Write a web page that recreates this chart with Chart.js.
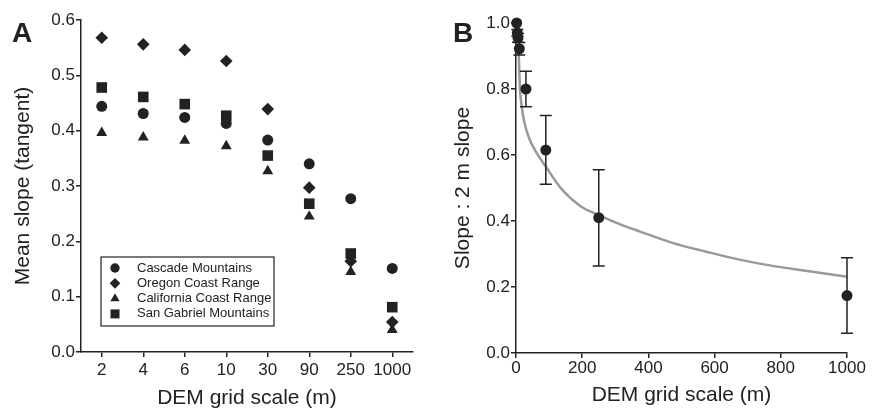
<!DOCTYPE html>
<html>
<head>
<meta charset="utf-8">
<script src="https://cdn.jsdelivr.net/npm/chart.js@4.4.0/dist/chart.umd.min.js"></script>
<style>
    body { margin: 0; background: #fff; }
    #wrapA { position: absolute; left: 0; top: 0; width: 440px; height: 410px; }
    #wrapB { position: absolute; left: 440px; top: 0; width: 438px; height: 410px; }
</style>
</head>
<body>
<div id="wrapA"><canvas id="chartA" width="440" height="410"></canvas></div>
<div id="wrapB"><canvas id="chartB" width="438" height="410"></canvas></div>
<script>
// Panel A - mean slope for each region at each DEM grid scale
const gridScales = ['2', '4', '6', '10', '30', '90', '250', '1000'];
const cascade = [0.444, 0.431, 0.424, 0.413, 0.383, 0.340, 0.277, 0.151];
const oregon = [0.568, 0.556, 0.546, 0.526, 0.439, 0.297, 0.164, 0.054];
const california = [0.396, 0.388, 0.382, 0.372, 0.327, 0.245, 0.145, 0.040];
const sanGabriel = [0.478, 0.461, 0.448, 0.427, 0.355, 0.268, 0.178, 0.081];

// Panel B - slope relative to the 2 m slope, with error bars and the fitted curve
const ratioX = [2, 4, 6, 10, 30, 90, 250, 1000];
const ratioY = [1.0, 0.97, 0.955, 0.922, 0.80, 0.615, 0.41, 0.174];
const ratioLow = [1.0, 0.96, 0.942, 0.903, 0.746, 0.511, 0.264, 0.060];
const ratioHigh = [1.0, 0.98, 0.968, 0.941, 0.854, 0.72, 0.555, 0.289];
const fitX = [6, 8, 12, 17, 25, 40, 60, 90, 135, 195, 250, 315, 375, 475, 575, 675, 775, 875, 1000];
const fitY = [1.0, 0.92, 0.80, 0.75, 0.70, 0.65, 0.61, 0.565, 0.50, 0.445, 0.418, 0.39, 0.368, 0.333, 0.307, 0.283, 0.264, 0.249, 0.231];

const FONT = '"Liberation Sans", Arial, sans-serif';
const INK = '#222';

Chart.defaults.font.family = FONT;
Chart.defaults.color = INK;

function axisGrid() {
    return { drawOnChartArea: false, color: INK, lineWidth: 1.5, tickLength: 5, offset: false };
}

// big bold panel letter in the top-left corner
function panelLetter(letter, x) {
    return {
        id: 'panelLetter' + letter,
        afterDraw(chart) {
            const ctx = chart.ctx;
            ctx.save();
            ctx.font = 'bold 28px ' + FONT;
            ctx.fillStyle = INK;
            ctx.textBaseline = 'alphabetic';
            ctx.fillText(letter, x, 42);
            ctx.restore();
        }
    };
}

// legend in a box inside the plot area of panel A
const legendBox = {
    id: 'legendBox',
    afterDatasetsDraw(chart) {
        const { ctx, chartArea } = chart;
        const left = chartArea.left + 20;
        const top = chartArea.top + 237;
        ctx.save();
        ctx.fillStyle = '#fff';
        ctx.fillRect(left, top, 173, 69);
        ctx.strokeStyle = INK;
        ctx.lineWidth = 1.2;
        ctx.strokeRect(left, top, 173, 69);
        ctx.font = '13px ' + FONT;
        ctx.textBaseline = 'middle';
        chart.data.datasets.forEach((ds, i) => {
            const y = top + 11 + i * 15.3;
            ctx.fillStyle = INK;
            Chart.helpers.drawPoint(ctx, {
                pointStyle: ds.pointStyle,
                radius: ds.pointRadius * 0.85,
                borderWidth: 0,
                rotation: 0
            }, left + 14, y);
            ctx.fillText(ds.label, left + 36, y);
        });
        ctx.restore();
    }
};

// vertical error bars with caps for panel B
const errorBars = {
    id: 'errorBars',
    afterDatasetsDraw(chart) {
        const { ctx, scales } = chart;
        ctx.save();
        ctx.strokeStyle = INK;
        ctx.lineWidth = 1.5;
        ratioX.forEach((x, i) => {
            if (ratioHigh[i] === ratioLow[i]) return;
            const px = scales.x.getPixelForValue(x);
            const yHi = scales.y.getPixelForValue(ratioHigh[i]);
            const yLo = scales.y.getPixelForValue(ratioLow[i]);
            ctx.beginPath();
            ctx.moveTo(px, yHi);
            ctx.lineTo(px, yLo);
            ctx.moveTo(px - 6, yHi);
            ctx.lineTo(px + 6, yHi);
            ctx.moveTo(px - 6, yLo);
            ctx.lineTo(px + 6, yLo);
            ctx.stroke();
        });
        ctx.restore();
    }
};

function markerSet(label, data, style, radius) {
    return {
        label: label,
        data: data,
        showLine: false,
        pointStyle: style,
        pointRadius: radius,
        pointBorderWidth: 0,
        backgroundColor: INK,
        borderColor: INK,
        clip: false
    };
}

new Chart(document.getElementById('chartA'), {
    type: 'line',
    data: {
        labels: gridScales,
        datasets: [
            markerSet('Cascade Mountains', cascade, 'circle', 5.5),
            markerSet('Oregon Coast Range', oregon, 'rectRot', 6.3),
            markerSet('California Coast Range', california, 'triangle', 6.3),
            markerSet('San Gabriel Mountains', sanGabriel, 'rect', 7.5)
        ]
    },
    options: {
        responsive: false,
        animation: false,
        layout: { padding: { left: 0, right: 27, top: 20, bottom: 0 } },
        plugins: { legend: { display: false }, tooltip: { enabled: false } },
        scales: {
            x: {
                type: 'category',
                offset: true,
                grid: axisGrid(),
                border: { color: INK, width: 1.5 },
                ticks: { font: { size: 17 }, padding: 3, maxRotation: 0, autoSkip: false },
                title: { display: true, text: 'DEM grid scale (m)', font: { size: 21, lineHeight: 1 }, padding: { top: 0, bottom: 1 } },
                afterFit(scale) { scale.height = 58; }
            },
            y: {
                min: 0,
                max: 0.6,
                grid: axisGrid(),
                border: { color: INK, width: 1.5 },
                ticks: { stepSize: 0.1, font: { size: 17 }, padding: 1, callback: v => v.toFixed(1) },
                title: { display: true, text: 'Mean slope (tangent)', font: { size: 21, lineHeight: 1 }, padding: { top: 13, bottom: 0 } },
                afterFit(scale) { scale.width = 81; }
            }
        }
    },
    plugins: [legendBox, panelLetter('A', 12)]
});

new Chart(document.getElementById('chartB'), {
    type: 'scatter',
    data: {
        datasets: [
            {
                label: 'Slope : 2 m slope',
                data: ratioX.map((x, i) => ({ x: x, y: ratioY[i] })),
                pointStyle: 'circle',
                pointRadius: 5.5,
                pointBorderWidth: 0,
                backgroundColor: INK,
                borderColor: INK,
                clip: false,
                order: 0
            },
            {
                label: 'fit',
                type: 'line',
                data: fitX.map((x, i) => ({ x: x, y: fitY[i] })),
                borderColor: '#999',
                borderWidth: 2.5,
                pointRadius: 0,
                cubicInterpolationMode: 'monotone',
                fill: false,
                clip: false,
                order: 1
            }
        ]
    },
    options: {
        responsive: false,
        animation: false,
        layout: { padding: { left: 0, right: 31, top: 23, bottom: 0 } },
        plugins: { legend: { display: false }, tooltip: { enabled: false } },
        scales: {
            x: {
                type: 'linear',
                min: 0,
                max: 1000,
                grid: axisGrid(),
                border: { color: INK, width: 1.5 },
                ticks: { stepSize: 200, font: { size: 17 }, padding: 0, maxRotation: 0, callback: v => String(v) },
                title: { display: true, text: 'DEM grid scale (m)', font: { size: 21, lineHeight: 1 }, padding: { top: 0, bottom: 4 } },
                afterFit(scale) { scale.height = 57; }
            },
            y: {
                min: 0,
                max: 1,
                grid: axisGrid(),
                border: { color: INK, width: 1.5 },
                ticks: { stepSize: 0.2, font: { size: 17 }, padding: 1, callback: v => v.toFixed(1) },
                title: { display: true, text: 'Slope : 2 m slope', font: { size: 21, lineHeight: 1 }, padding: { top: 13, bottom: 0 } },
                afterFit(scale) { scale.width = 76; }
            }
        }
    },
    plugins: [errorBars, panelLetter('B', 13)]
});
</script>
</body>
</html>
